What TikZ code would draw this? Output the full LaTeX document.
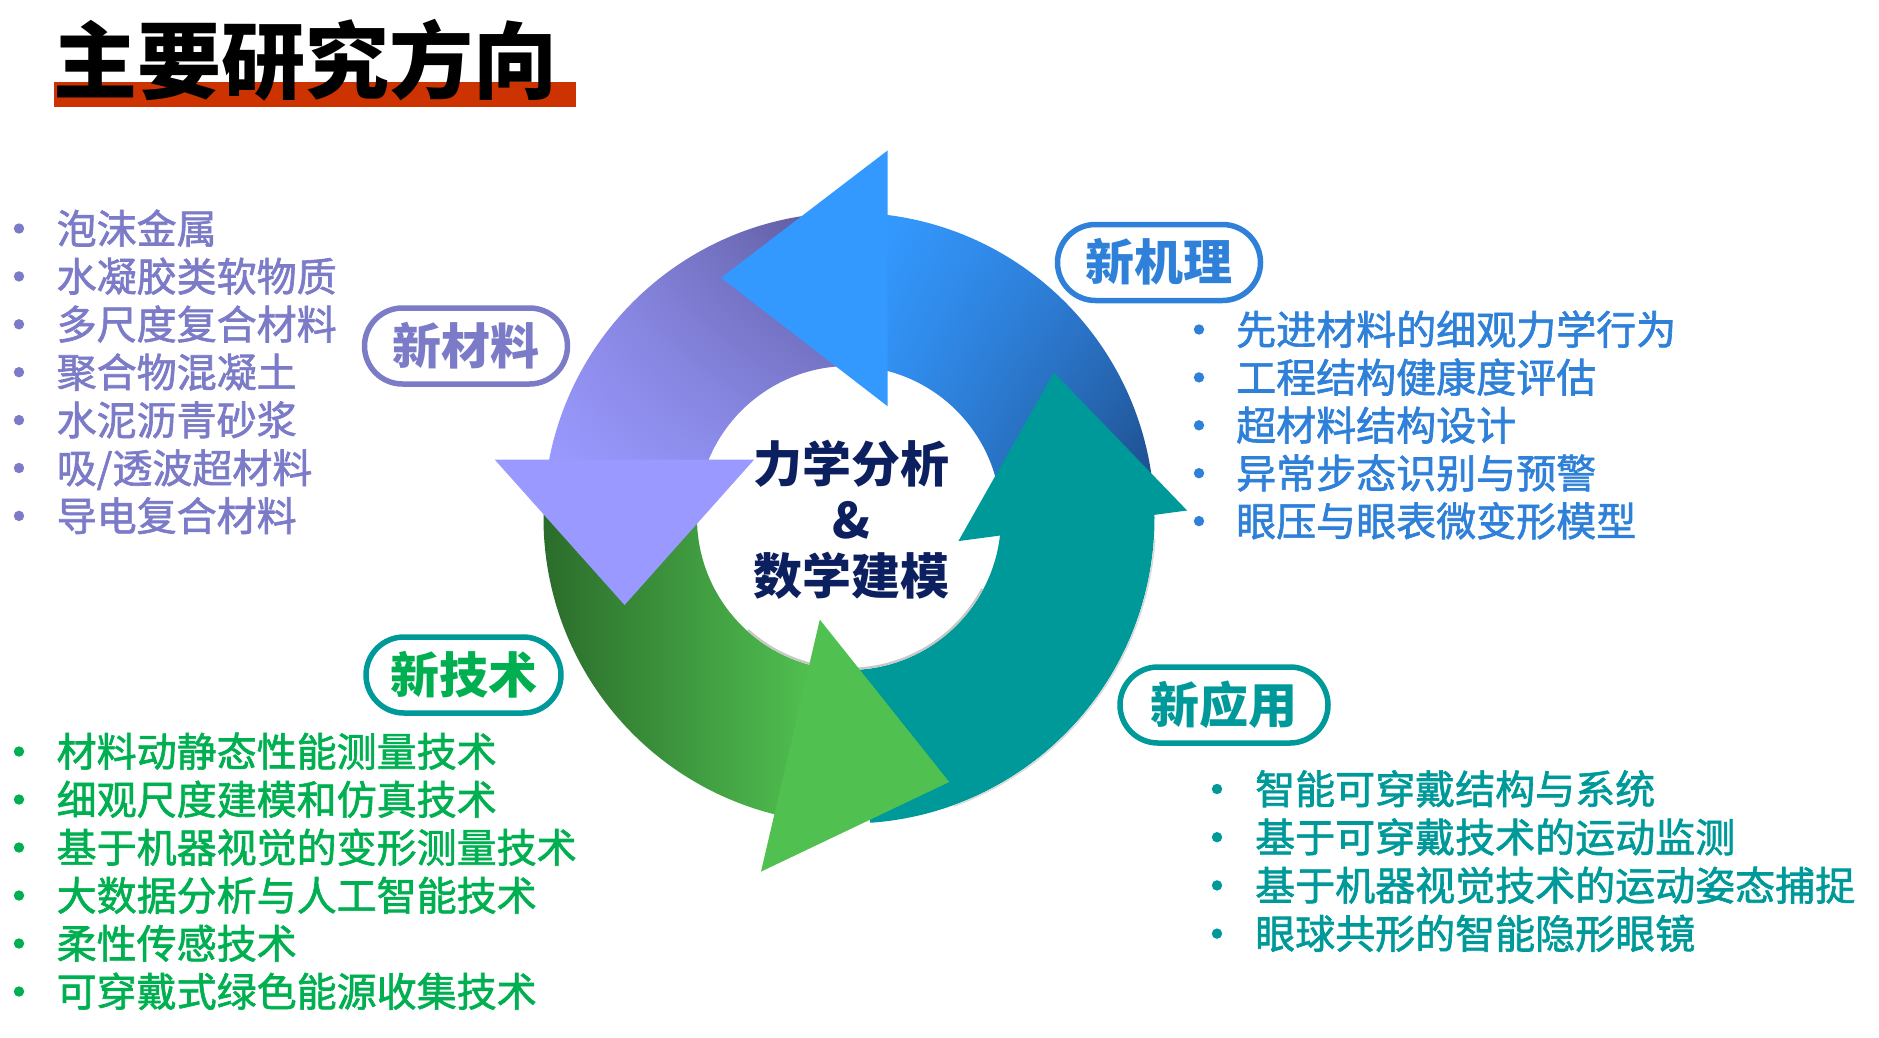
\documentclass[tikz,border=0pt]{standalone}
\usepackage{fontspec}
\setmainfont{Noto Sans CJK SC}
\newfontfamily\listfont{Noto Sans CJK SC}[FakeBold=1.6]
\usetikzlibrary{shadings}
\definecolor{titlered}{HTML}{CC3300}
\definecolor{navy}{HTML}{0C1F5F}
\definecolor{purpleT}{HTML}{7B7BC8}
\definecolor{blueT}{HTML}{2E80D8}
\definecolor{greenT}{HTML}{00B050}
\definecolor{tealT}{HTML}{009999}
\definecolor{blueA}{HTML}{3399FF}
\definecolor{blueB}{HTML}{2F7AD2}
\definecolor{blueC}{HTML}{3088E6}
\definecolor{blueD}{HTML}{1C4A86}
\definecolor{purA}{HTML}{8C8AE6}
\definecolor{purB}{HTML}{5A5698}
\definecolor{purC}{HTML}{9999FF}
\definecolor{purD}{HTML}{8585E0}
\definecolor{grnA}{HTML}{2A6A2A}
\definecolor{grnB}{HTML}{48AE48}
\definecolor{grnC}{HTML}{50C050}
\begin{document}
\begin{tikzpicture}[x=1pt,y=1pt,
  item/.style={anchor=west, inner sep=0pt, font=\listfont\fontsize{40}{48}\selectfont, text height=33pt, text depth=3pt},
  badge/.style={draw, line width=5.5pt, rounded corners=38pt, minimum height=76pt, inner sep=0pt,
    font=\bfseries\fontsize{49}{55}\selectfont, text height=40.5pt, text depth=4pt},
  core/.style={inner sep=0pt, text=navy, font=\bfseries\fontsize{49}{55}\selectfont, text height=40.5pt, text depth=4pt},
  bul/.style={radius=5.2pt}]
\useasboundingbox (0,0) rectangle (1879,-1037);

% title
\fill[titlered] (54,-82) rectangle (576,-107);
\node[inner sep=0pt, font=\bfseries\fontsize{84}{90}\selectfont, text height=69.5pt, text depth=6.5pt] (title) at (305,-61) {主要研究方向};

% ring bodies
\begin{scope}[shift={(849,-518)}]
\shade[upper left=blueA, upper right=blueB, lower left=blueC, lower right=blueD]
  (83.5:305.5pt) arc[start angle=83.5, end angle=5, radius=305.5pt] -- (5:152pt)
  arc[start angle=5, end angle=76.5, radius=152pt] -- cycle;
\shade[upper left=purA, upper right=purB, lower left=purC, lower right=purD]
  (170:305.5pt) arc[start angle=170, end angle=91, radius=305.5pt] -- (91:152pt)
  arc[start angle=91, end angle=158.5, radius=152pt] -- cycle;
\shade[left color=grnA, middle color=grnB, right color=grnC]
  (256.8:305.5pt) arc[start angle=256.8, end angle=177, radius=305.5pt] -- (177:152pt)
  arc[start angle=177, end angle=255.8, radius=152pt] -- cycle;
\fill[tealT]
  (1.5:305.5pt) arc[start angle=1.5, end angle=-86, radius=305.5pt] -- (-89:152pt)
  arc[start angle=-89, end angle=-5.5, radius=152pt] -- cycle;
\draw[black!22, line width=2.2pt] (228:150.8pt) arc[start angle=228, end angle=332, radius=150.8pt];
\draw[black!15, line width=1.5pt] (-4:306.5pt) arc[start angle=-4, end angle=-70, radius=306.5pt];
\end{scope}

% arrow heads
\fill[blueA] (887.7,-150.4) -- (721,-277.8) -- (887.7,-406.3) -- cycle;
\fill[purC] (494.7,-459.6) -- (754.1,-459.6) -- (624.6,-605) -- cycle;
\fill[grnC] (819.8,-619.6) -- (949.2,-782) -- (761,-871.6) -- cycle;
\fill[tealT] (958.4,-541.1) -- (1053.9,-372.4) -- (1187.1,-510.5) -- cycle;

% centre text
\node[core] (c1) at (851,-464) {力学分析};
\node[core] (c2) at (851,-520) {\&};
\node[core] (c3) at (851,-576) {数学建模};

% badges
\node[badge, draw=purpleT, text=purpleT, minimum width=203pt] (bm) at (466,-346) {新材料};
\node[badge, draw=blueT, text=blueT, minimum width=203pt] (bj) at (1159,-262.5) {新机理};
\node[badge, draw=tealT, text=greenT, minimum width=195pt] (bt) at (463.5,-675) {新技术};
\node[badge, draw=tealT, text=tealT, minimum width=208pt] (by) at (1224,-705) {新应用};

% lists
\foreach \t [count=\i] in {泡沫金属,水凝胶类软物质,多尺度复合材料,聚合物混凝土,水泥沥青砂浆,吸/透波超材料,导电复合材料}{
  \fill[purpleT] (19,{-228.5-47.9*(\i-1)}) circle[bul];
  \node[item, text=purpleT] (m\i) at (56.5,{-228.5-47.9*(\i-1)}) {\t};
}
\foreach \t [count=\i] in {先进材料的细观力学行为,工程结构健康度评估,超材料结构设计,异常步态识别与预警,眼压与眼表微变形模型}{
  \fill[blueT] (1199,{-329.5-47.9*(\i-1)}) circle[bul];
  \node[item, text=blueT] (j\i) at (1236,{-329.5-47.9*(\i-1)}) {\t};
}
\foreach \t [count=\i] in {材料动静态性能测量技术,细观尺度建模和仿真技术,基于机器视觉的变形测量技术,大数据分析与人工智能技术,柔性传感技术,可穿戴式绿色能源收集技术}{
  \fill[greenT] (19,{-751.5-48*(\i-1)}) circle[bul];
  \node[item, text=greenT] (t\i) at (56.5,{-751.5-48*(\i-1)}) {\t};
}
\foreach \t [count=\i] in {智能可穿戴结构与系统,基于可穿戴技术的运动监测,基于机器视觉技术的运动姿态捕捉,眼球共形的智能隐形眼镜}{
  \fill[tealT] (1217,{-789-48.2*(\i-1)}) circle[bul];
  \node[item, text=tealT] (y\i) at (1255,{-789-48.2*(\i-1)}) {\t};
}
\end{tikzpicture}
\end{document}
